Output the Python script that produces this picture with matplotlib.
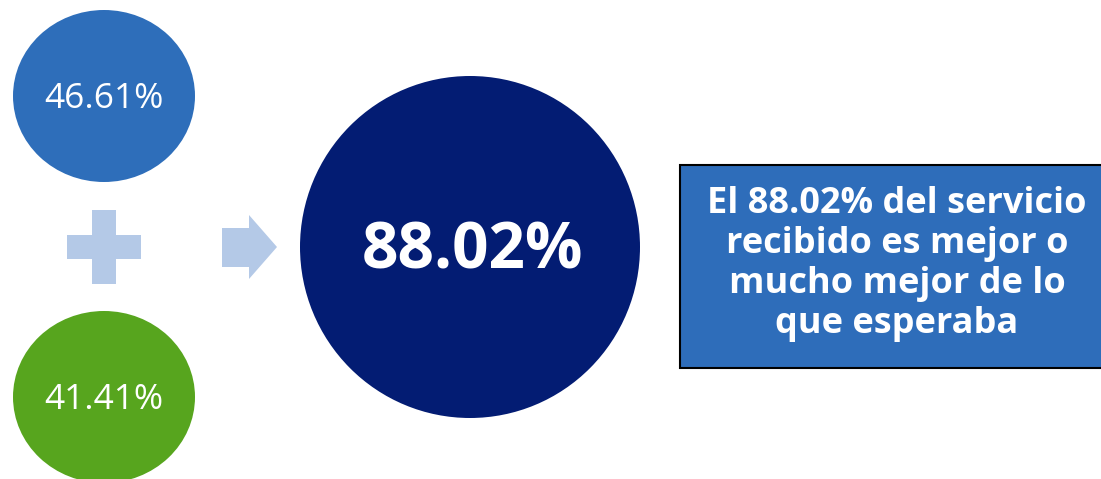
import matplotlib
matplotlib.use('Agg')
import matplotlib.pyplot as plt
from matplotlib.patches import Ellipse, Polygon, Rectangle

# values shown in the infographic
parts = [46.61, 41.41]
part_colors = ['#2E6EBA', '#57A51E']
total = 88.02
total_color = '#031C73'
message = 'El 88.02% del servicio\nrecibido es mejor o\nmucho mejor de lo\nque esperaba'

W, H = 1101, 479
fig = plt.figure(figsize=(W / 100, H / 100), dpi=100)
ax = fig.add_axes([0, 0, 1, 1])
ax.set_xlim(0, W)
ax.set_ylim(H, 0)
ax.axis('off')

light = '#B4C9E7'

# two small circles
centers_y = [96, 397]
for v, c, cy in zip(parts, part_colors, centers_y):
    ax.add_patch(Ellipse((104, cy), 182, 172, color=c, lw=0))
    ax.text(104, cy + 3, '%.2f%%' % v, color='white', fontsize=25.5,
            family='Open Sans', ha='center', va='center')

# plus sign
ax.add_patch(Rectangle((92, 210), 24, 74, color=light, lw=0))
ax.add_patch(Rectangle((67, 235), 74, 24, color=light, lw=0))

# arrow
ax.add_patch(Polygon([(222, 228), (249, 228), (249, 215), (277, 247),
                      (249, 279), (249, 267), (222, 267)], color=light, lw=0))

# big circle
ax.add_patch(Ellipse((470, 247), 340, 342, color=total_color, lw=0))
ax.text(472, 252, '%.2f%%' % total, color='white', fontsize=46,
        family='Open Sans', weight='bold', ha='center', va='center')

# message box
ax.add_patch(Rectangle((679.5, 164.5), 440, 203, facecolor='#2E6DBA',
                       edgecolor='black', lw=1.5))
ax.text(897, 264, message, color='white', fontsize=26, family='Open Sans',
        weight='bold', ha='center', va='center', linespacing=1.16)

fig.savefig('out.png', dpi=100)
